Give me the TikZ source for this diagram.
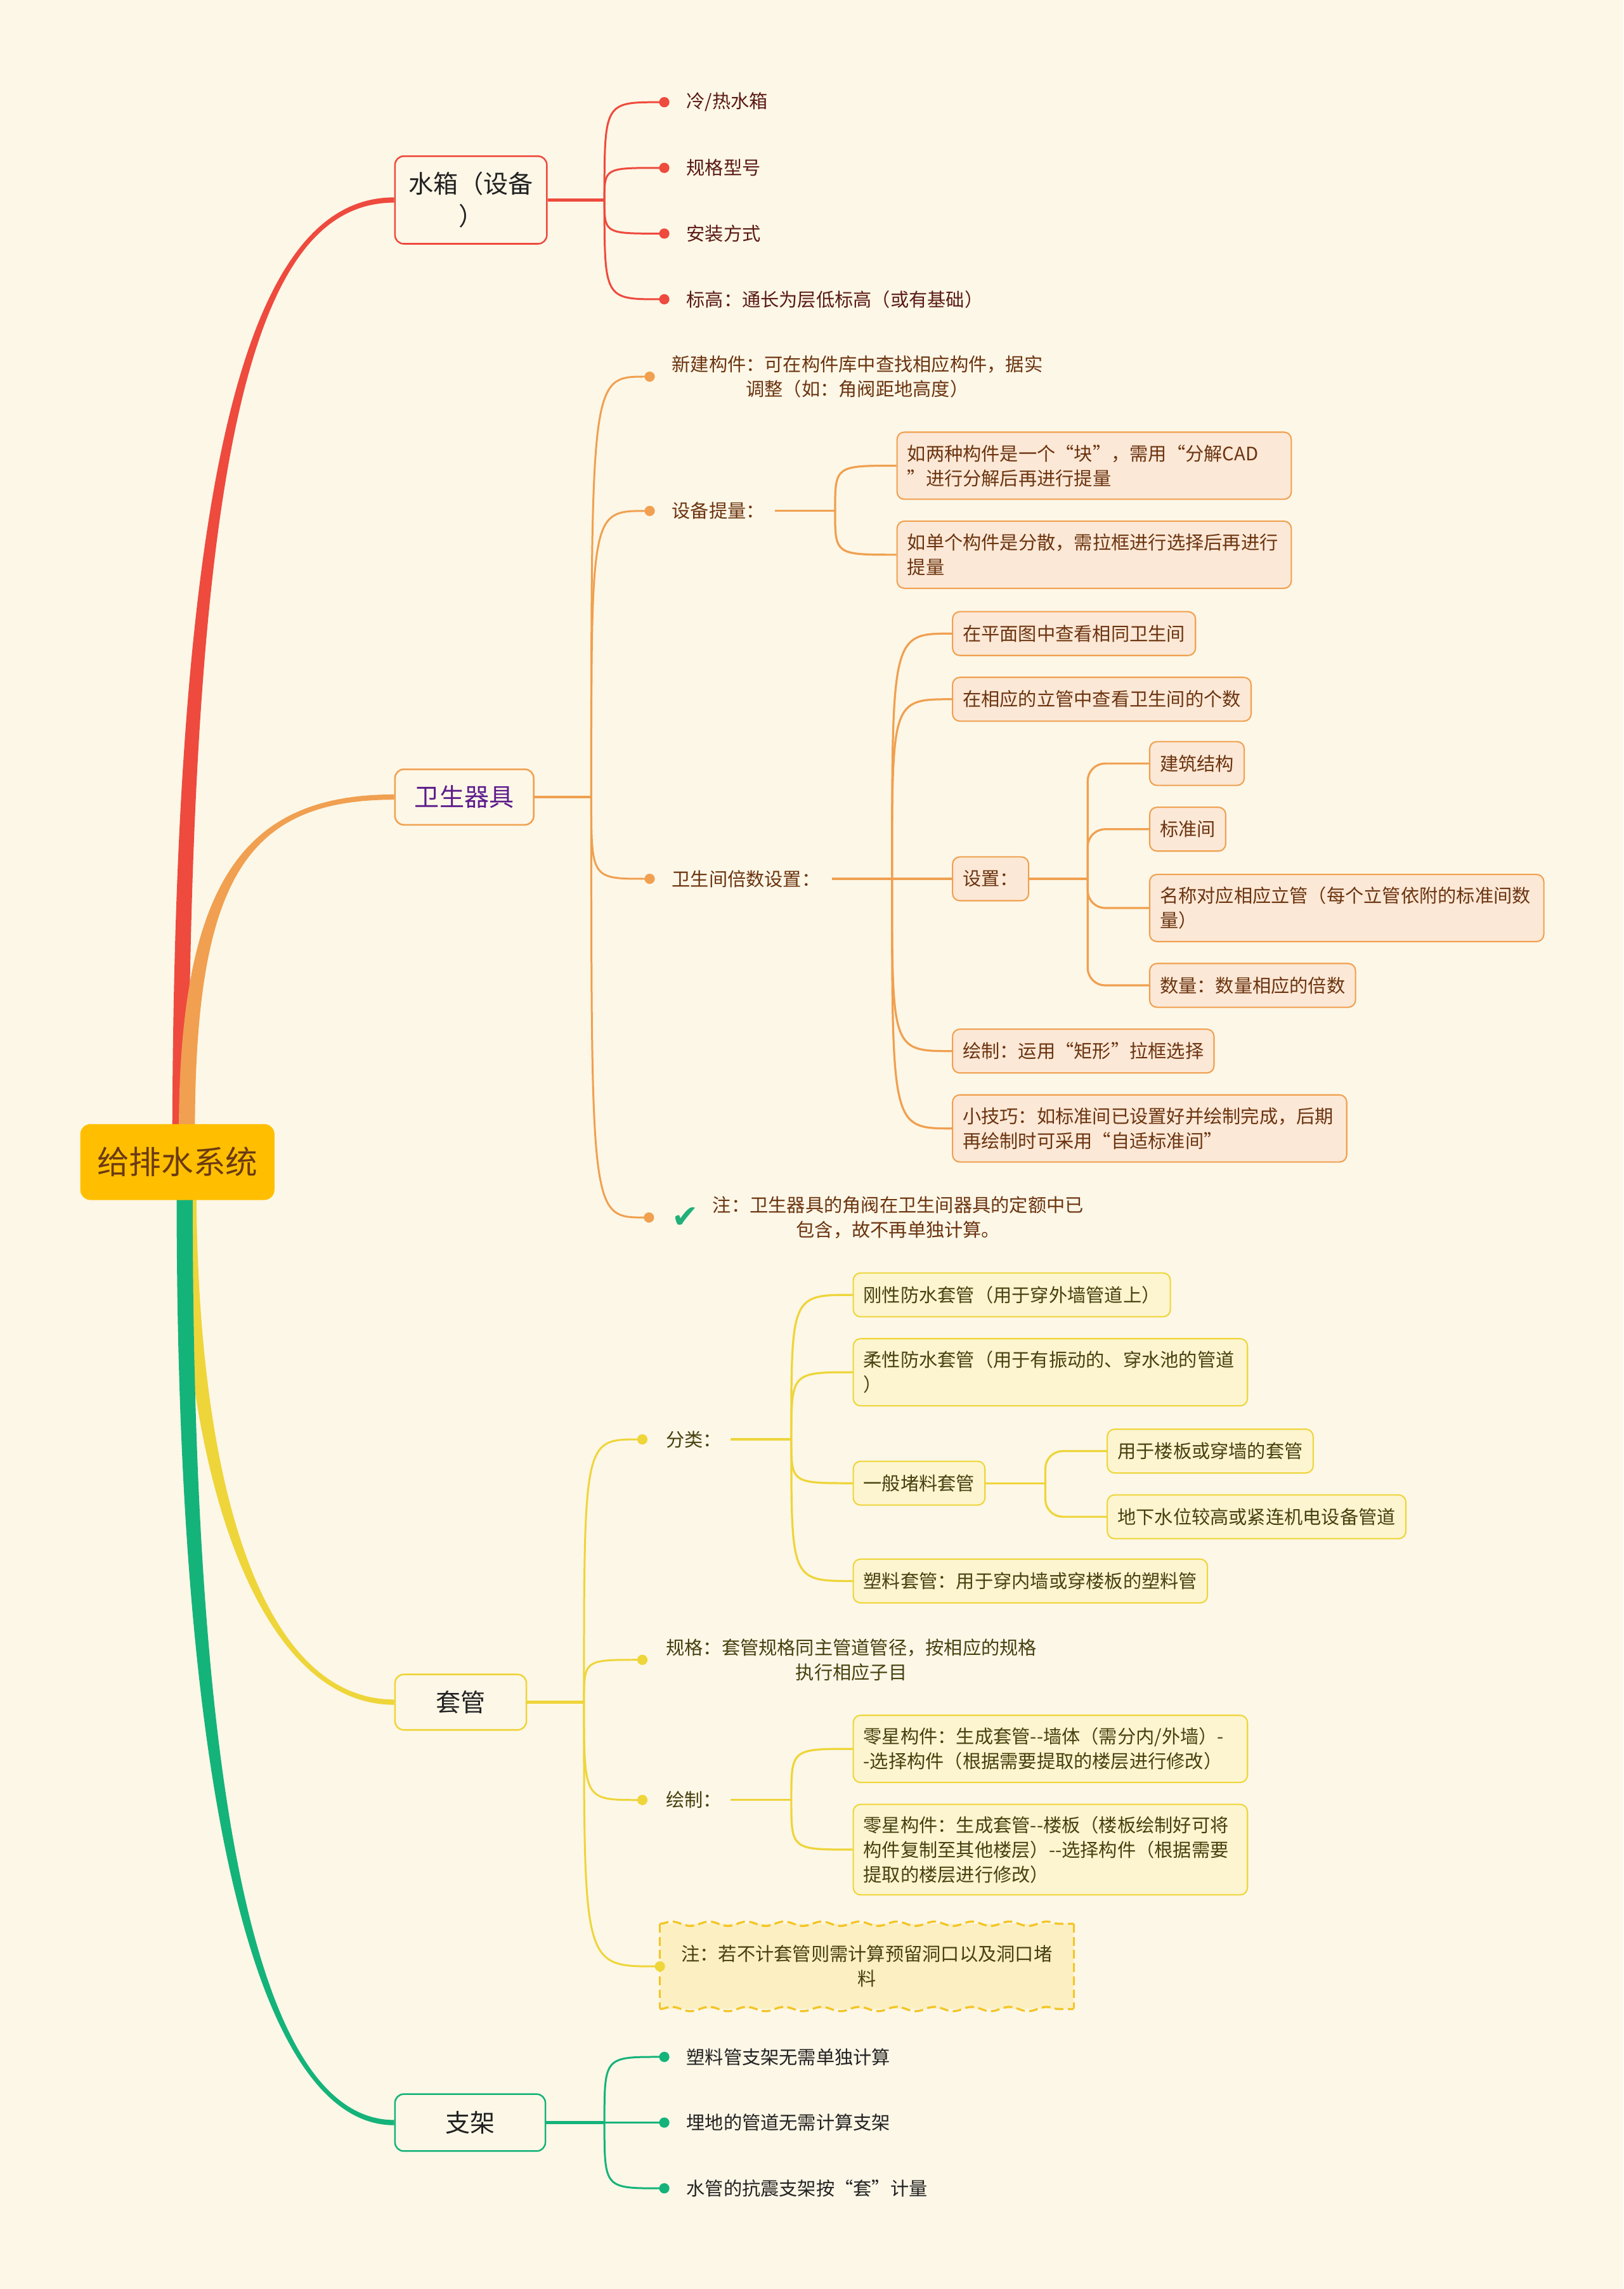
\documentclass[tikz,border=0pt]{standalone}
\usepackage{fontspec}
\setmainfont{Noto Sans CJK SC}
\newfontfamily\tickfont{DejaVu Sans}
\usetikzlibrary{arrows.meta, decorations.pathmorphing}
\pgfdeclarelayer{back}
\pgfsetlayers{back,main}

\definecolor{paper}{HTML}{FDF7E7}
\definecolor{rootfill}{HTML}{FFBF00}
\definecolor{roottext}{HTML}{6B3A12}
\definecolor{redline}{HTML}{EE4A3E}
\definecolor{redtext}{HTML}{5A1A14}
\definecolor{orgline}{HTML}{F0A050}
\definecolor{orgfill}{HTML}{FCE8D6}
\definecolor{orgtext}{HTML}{6B3410}
\definecolor{ylwline}{HTML}{EED53A}
\definecolor{ylwfill}{HTML}{FDF5CF}
\definecolor{ylwtext}{HTML}{47400F}
\definecolor{notefill}{HTML}{FCEFC2}
\definecolor{noteline}{HTML}{F3C524}
\definecolor{grnline}{HTML}{14B37A}
\definecolor{tickgreen}{HTML}{22B07A}
\definecolor{darktext}{HTML}{222222}
\definecolor{topicpurple}{HTML}{5D1D8C}

\newcommand\leaffont{\fontsize{12.7}{17}\selectfont}
% tapered limb: colour, start, control 1, control 2, end, outer and inner shift at the end
\newcommand\limb[7]{%
  \fill[#1] ([xshift=-5.5pt]#2) .. controls ([xshift=-5.5pt]#3) and ([yshift=#6]#4) .. ([yshift=#6]#5)
    -- ([yshift=#7]#5) .. controls ([yshift=#7]#4) and ([xshift=5.5pt]#3) .. ([xshift=5.5pt]#2) -- cycle;}
% curved branch from a junction to a node
\newcommand\sprig[3]{\draw[#1] (#2) .. controls (#2 |- #3) and (#2 |- #3) .. (#3);}

\begin{document}
\begin{tikzpicture}[x=1pt,y=-1pt,inner sep=0pt,
  root/.style={fill=rootfill,text=roottext,rounded corners=7pt,minimum width=133pt,minimum height=52pt,font=\fontsize{22}{26}\selectfont},
  topic/.style={draw=#1,fill=paper,line width=1.1pt,rounded corners=6pt,anchor=west,minimum height=38pt,align=center,text=darktext,font=\fontsize{17}{22}\selectfont},
  leaf/.style={anchor=west,font=\leaffont},
  card/.style={draw=#1,line width=0.9pt,rounded corners=5pt,anchor=west,inner xsep=7pt,inner ysep=4pt,minimum height=30pt,align=left,font=\leaffont},
  orgcard/.style={card=orgline,fill=orgfill,text=orgtext},
  ylwcard/.style={card=ylwline,fill=ylwfill,text=ylwtext},
  twig/.style={line width=1.3pt,-{Circle[length=7pt]},shorten >=#1},
  twig/.default=11.5pt,
  stem/.style={line width=2pt},
  fork/.style={line width=1.4pt},
  elbow/.style={line width=1.4pt,rounded corners=12pt},
  notedge/.style={draw=noteline,line width=1.4pt,dash pattern=on 6pt off 3pt}
]
\useasboundingbox (0,0) rectangle (1112,1568);

% root and topics
\node[root] (root) at (121.5,796) {给排水系统};
\node[topic=redline,minimum width=104pt,minimum height=60pt] (tank) at (270,137) {水箱（设备\\）};
\node[topic=orgline,minimum width=95pt,text=topicpurple] (fixture) at (270,546) {卫生器具};
\node[topic=ylwline,minimum width=90pt] (sleeve) at (270,1166) {套管};
\node[topic=grnline,minimum width=103pt,minimum height=39pt] (bracket) at (270,1454) {支架};

\coordinate (topR) at ([xshift=2pt,yshift=-6pt]root.north);
\coordinate (topO) at ([xshift=6.5pt,yshift=-6pt]root.north);
\coordinate (botY) at ([xshift=7.5pt,yshift=6pt]root.south);
\coordinate (botG) at ([xshift=5pt,yshift=6pt]root.south);
\begin{pgfonlayer}{back}
\fill[paper] (0,0) rectangle (1112,1568);
\limb{redline}{topR}{125,300}{175,137}{tank.west}{1.8pt}{-1.8pt}
\limb{orgline}{topO}{128,600}{170,546}{fixture.west}{1.8pt}{-1.8pt}
\limb{ylwline}{botY}{130,1020}{180,1166}{sleeve.west}{-1.8pt}{1.8pt}
\limb{grnline}{botG}{126,1250}{180,1454}{bracket.west}{-1.8pt}{1.8pt}
\end{pgfonlayer}

% water tank
\coordinate (tankJ) at (414,137);
\node[leaf,text=redtext] (tank1) at (470,70) {冷/热水箱};
\node[leaf,text=redtext] (tank2) at (470,115) {规格型号};
\node[leaf,text=redtext] (tank3) at (470,160) {安装方式};
\node[leaf,text=redtext] (tank4) at (470,205) {标高：通长为层低标高（或有基础）};
\draw[stem,redline] (tank.east) -- (tankJ);
\foreach \k in {1,...,4}{\sprig{twig,redline}{tankJ}{tank\k.west}}

% sanitary fixtures
\coordinate (fixJ) at (405,546);
\node[leaf,text=orgtext,align=center] (fix1) at (460,258) {新建构件：可在构件库中查找相应构件，据实\\调整（如：角阀距地高度）};
\node[leaf,text=orgtext] (fix2) at (460,350) {设备提量：};
\node[leaf,text=orgtext] (fix3) at (460,602) {卫生间倍数设置：};
\node[anchor=west,text=tickgreen,font=\tickfont\fontsize{22}{22}\selectfont] (tick) at (460,834) {✔};
\node[leaf,text=orgtext,align=center] (fix4) at (488,834) {注：卫生器具的角阀在卫生间器具的定额中已\\包含，故不再单独计算。};
\draw[stem,orgline] (fixture.east) -- (fixJ);
\foreach \k in {1,2,3}{\sprig{twig,orgline}{fixJ}{fix\k.west}}
\sprig{twig=12pt,orgline}{fixJ}{tick.west}

\coordinate (fix2J) at (572,350);
\node[orgcard,text width=256pt,minimum height=46pt] (fix2a) at (614,319) {如两种构件是一个“块”，需用“分解CAD\\”进行分解后再进行提量};
\node[orgcard,text width=256pt,minimum height=46pt] (fix2b) at (614,380) {如单个构件是分散，需拉框进行选择后再进行\\提量};
\draw[fork,orgline] ([xshift=7pt]fix2.east) -- (fix2J);
\sprig{fork,orgline}{fix2J}{fix2a.west}
\sprig{fork,orgline}{fix2J}{fix2b.west}

\coordinate (fix3J) at (611,602);
\node[orgcard] (fix3a) at (652,434) {在平面图中查看相同卫生间};
\node[orgcard] (fix3b) at (652,479) {在相应的立管中查看卫生间的个数};
\node[orgcard] (fix3c) at (652,602) {设置：};
\node[orgcard] (fix3d) at (652,720) {绘制：运用“矩形”拉框选择};
\node[orgcard,text width=256pt,minimum height=46pt] (fix3e) at (652,773) {小技巧：如标准间已设置好并绘制完成，后期\\再绘制时可采用“自适标准间”};
\draw[fork,orgline] ([xshift=8pt]fix3.east) -- (fix3J);
\foreach \k in {a,...,e}{\sprig{fork,orgline}{fix3J}{fix3\k.west}}

\coordinate (fix3cJ) at (745,602);
\node[orgcard] (set1) at (787,523) {建筑结构};
\node[orgcard] (set2) at (787,568) {标准间};
\node[orgcard,text width=256pt,minimum height=46pt] (set3) at (787,622) {名称对应相应立管（每个立管依附的标准间数\\量）};
\node[orgcard] (set4) at (787,675) {数量：数量相应的倍数};
\draw[fork,orgline] (fix3c.east) -- (fix3cJ);
\foreach \k in {1,...,4}{\draw[elbow,orgline] (fix3cJ) |- (set\k.west);}

% sleeves
\coordinate (sleeveJ) at (400,1166);
\node[leaf,text=ylwtext] (sl1) at (456,986) {分类：};
\node[leaf,text=ylwtext,align=center] (sl2) at (456,1137) {规格：套管规格同主管道管径，按相应的规格\\执行相应子目};
\node[leaf,text=ylwtext] (sl3) at (456,1233) {绘制：};
\node[anchor=west,fill=notefill,minimum width=283pt,minimum height=58pt,align=center,text=ylwtext,font=\leaffont] (sl4) at (452,1347) {注：若不计套管则需计算预留洞口以及洞口堵\\料};
\draw[notedge,decorate,decoration={snake,segment length=25.7pt,amplitude=1.5pt}] (sl4.north west) -- (sl4.north east);
\draw[notedge,decorate,decoration={snake,segment length=25.7pt,amplitude=1.5pt}] (sl4.south west) -- (sl4.south east);
\draw[notedge] (sl4.north west) -- (sl4.south west);
\draw[notedge] (sl4.north east) -- (sl4.south east);
\draw[stem,ylwline] (sleeve.east) -- (sleeveJ);
\foreach \k in {1,2,3}{\sprig{twig=12.5pt,ylwline}{sleeveJ}{sl\k.west}}
\sprig{twig=-3.5pt,ylwline}{sleeveJ}{sl4.west}

\coordinate (sl1J) at (542,986);
\node[ylwcard] (sl1a) at (584,887) {刚性防水套管（用于穿外墙管道上）};
\node[ylwcard,text width=256pt,minimum height=46pt] (sl1b) at (584,940) {柔性防水套管（用于有振动的、穿水池的管道\\）};
\node[ylwcard] (sl1c) at (584,1016) {一般堵料套管};
\node[ylwcard] (sl1d) at (584,1083) {塑料套管：用于穿内墙或穿楼板的塑料管};
\draw[fork,ylwline] ([xshift=6pt]sl1.east) -- (sl1J);
\foreach \k in {a,...,d}{\sprig{fork,ylwline}{sl1J}{sl1\k.west}}

\coordinate (sl1cJ) at (716,1016);
\node[ylwcard] (plug1) at (758,994) {用于楼板或穿墙的套管};
\node[ylwcard] (plug2) at (758,1039) {地下水位较高或紧连机电设备管道};
\draw[fork,ylwline] (sl1c.east) -- (sl1cJ);
\foreach \k in {1,2}{\draw[elbow,ylwline] (sl1cJ) |- (plug\k.west);}

\coordinate (sl3J) at (542,1233);
\node[ylwcard,text width=256pt,minimum height=46pt] (sl3a) at (584,1198) {零星构件：生成套管-{}-墙体（需分内/外墙）-\\-选择构件（根据需要提取的楼层进行修改）};
\node[ylwcard,text width=256pt,minimum height=62pt] (sl3b) at (584,1267) {零星构件：生成套管-{}-楼板（楼板绘制好可将\\构件复制至其他楼层）-{}-选择构件（根据需要\\提取的楼层进行修改）};
\draw[fork,ylwline] ([xshift=6pt]sl3.east) -- (sl3J);
\sprig{fork,ylwline}{sl3J}{sl3a.west}
\sprig{fork,ylwline}{sl3J}{sl3b.west}

% brackets
\coordinate (bracketJ) at (414,1454);
\node[leaf,text=darktext] (br1) at (470,1409) {塑料管支架无需单独计算};
\node[leaf,text=darktext] (br2) at (470,1454) {埋地的管道无需计算支架};
\node[leaf,text=darktext] (br3) at (470,1499) {水管的抗震支架按“套”计量};
\draw[stem,grnline] (bracket.east) -- (bracketJ);
\foreach \k in {1,2,3}{\sprig{twig,grnline}{bracketJ}{br\k.west}}
\end{tikzpicture}
\end{document}
